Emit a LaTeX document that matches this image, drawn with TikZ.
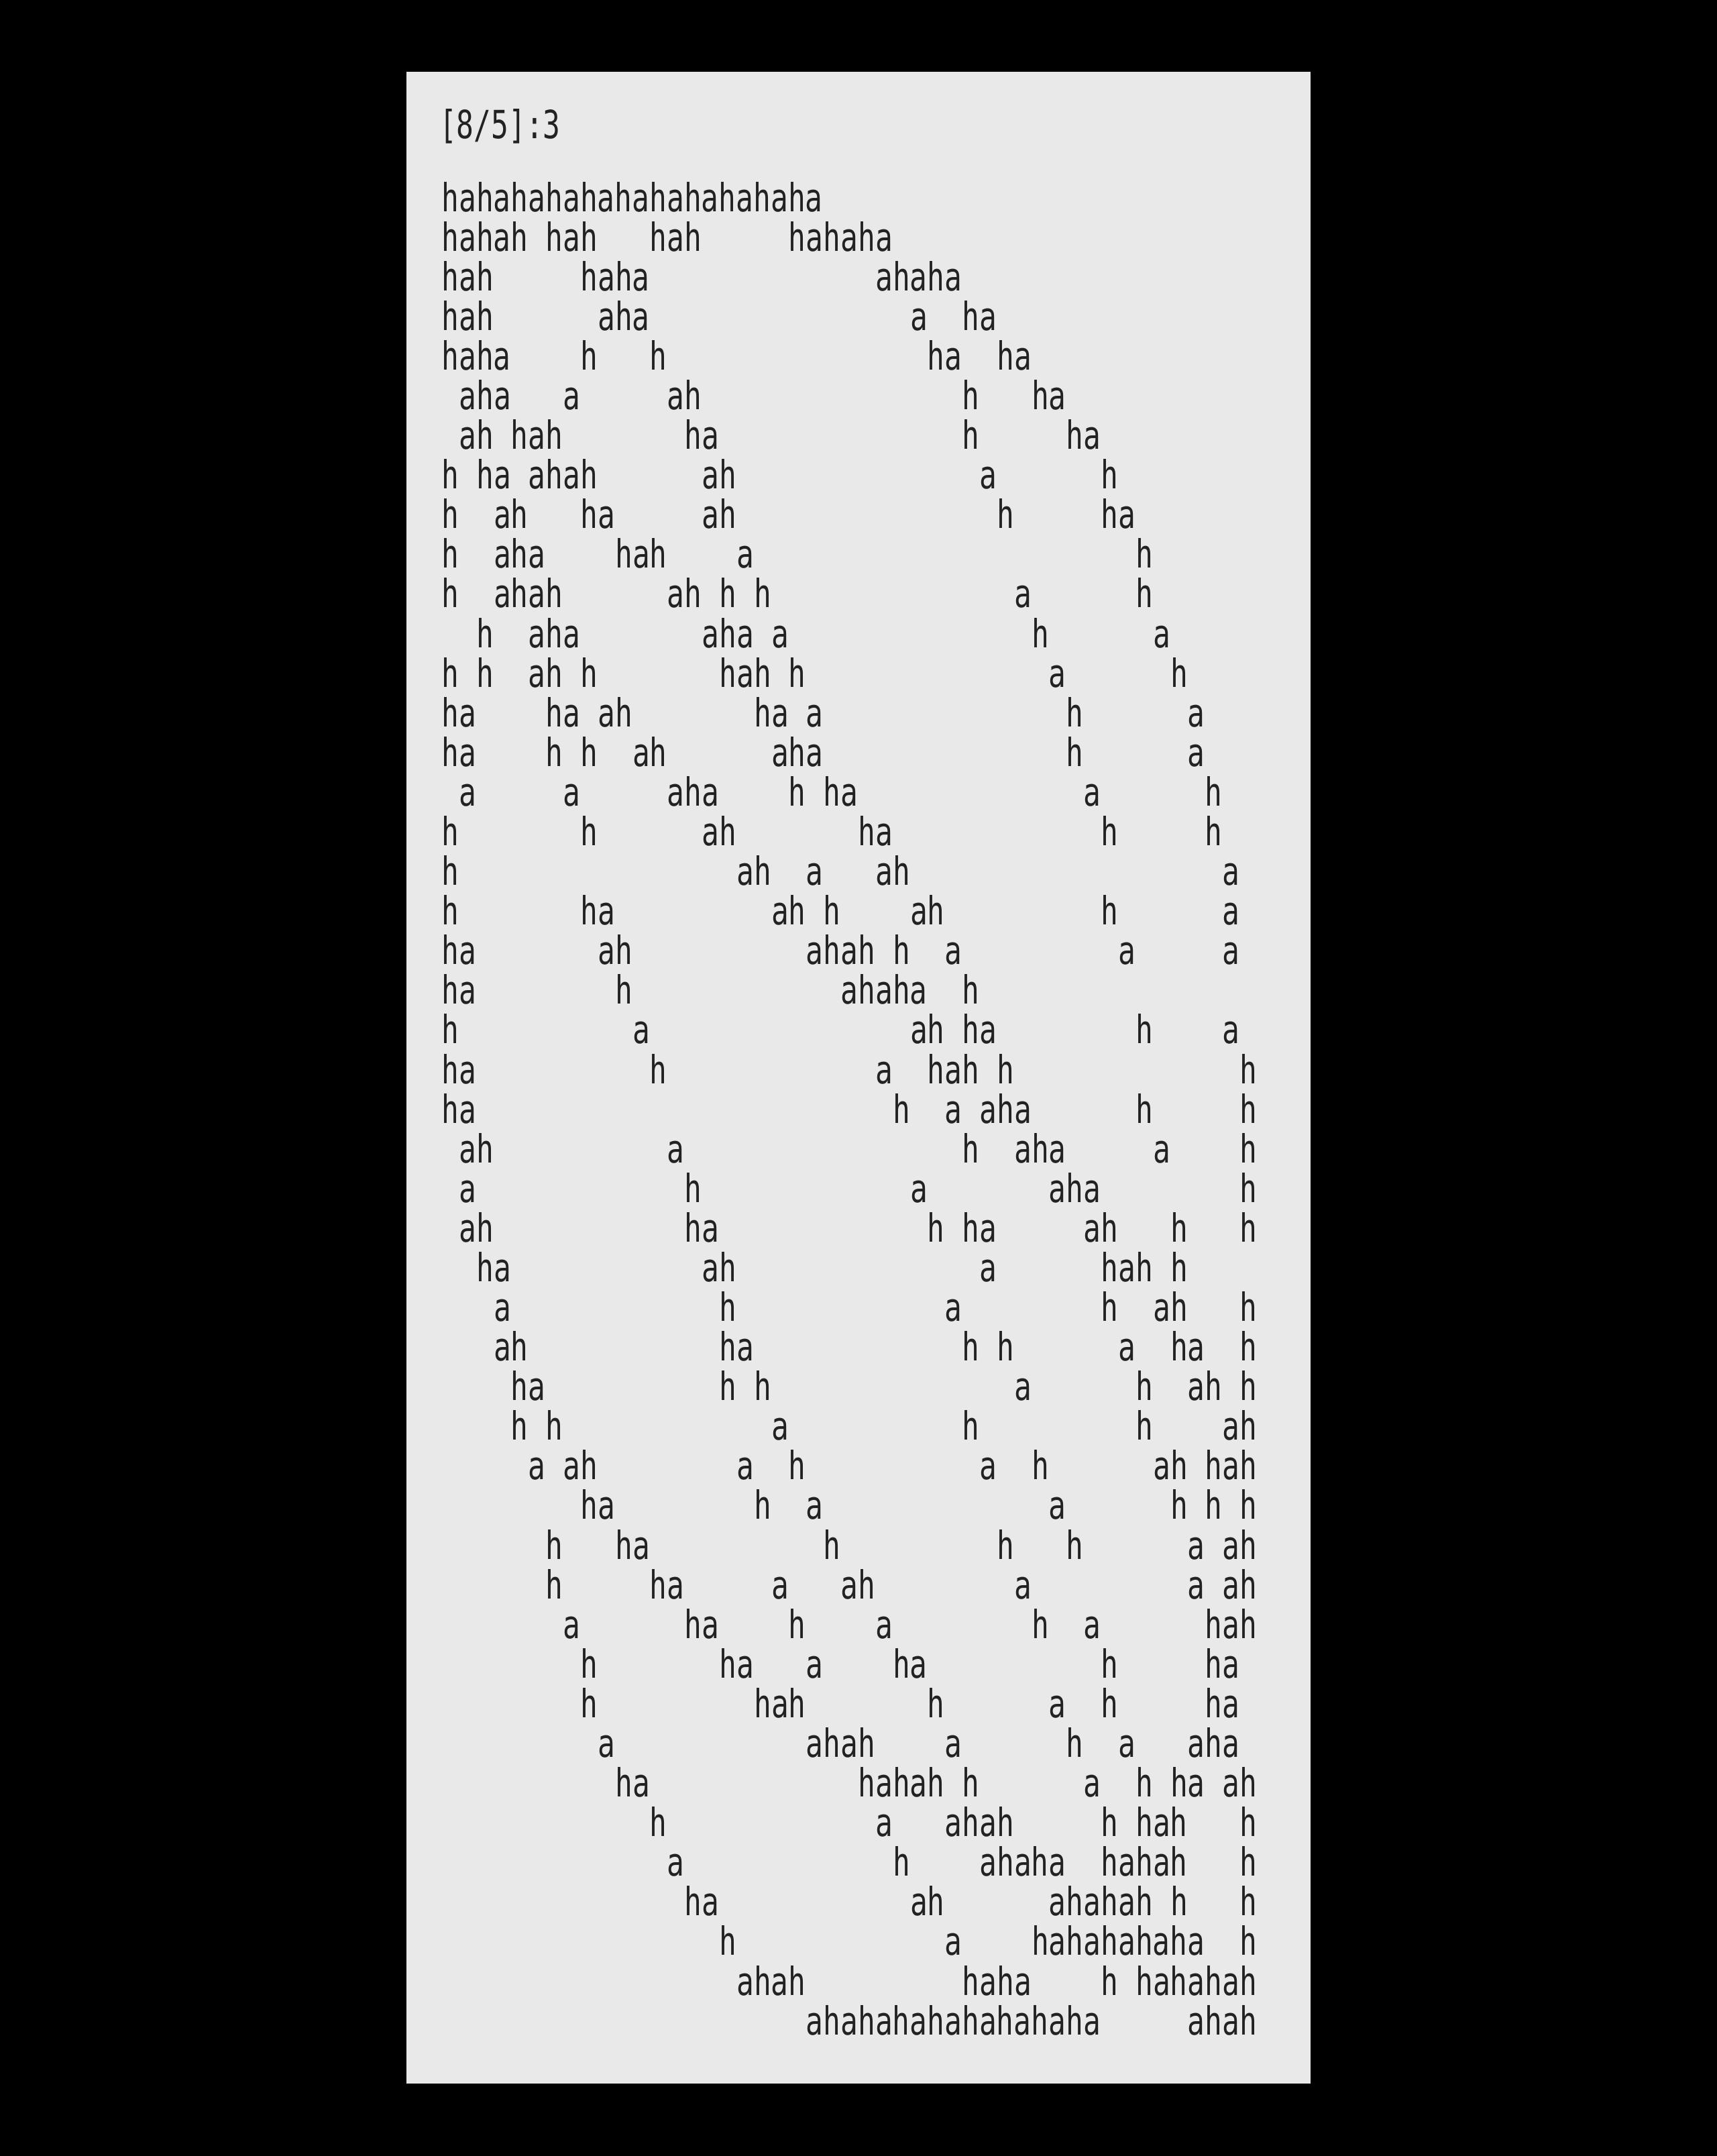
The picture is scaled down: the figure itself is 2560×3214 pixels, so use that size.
\documentclass[tikz,border=0pt]{standalone}
\usepackage{fontspec}
\newfontfamily\hafont[FakeStretch=0.741]{DejaVu Sans Mono}
\definecolor{panelgray}{RGB}{233,233,233}
\definecolor{inkgray}{RGB}{34,34,34}
\begin{document}
\begin{tikzpicture}[x=0.3pt,y=-0.3pt,
  txt/.style={anchor=base west,inner sep=0pt,outer sep=0pt,text=inkgray,
    font=\hafont\fontsize{17.37pt}{20pt}\selectfont}]
\path[use as bounding box, fill=black] (0,0) rectangle (2560,3214);
\fill[panelgray] (606,107) rectangle (1954,3106);
\node[txt] (header) at (655,206.7) {[8/5]:3};
\foreach \r/\c/\t in {
0/0/hahahahahahahahahahaha,
1/0/hahah,1/6/hah,1/12/hah,1/20/hahaha,
2/0/hah,2/8/haha,2/25/ahaha,
3/0/hah,3/9/aha,3/27/a,3/30/ha,
4/0/haha,4/8/h,4/12/h,4/28/ha,4/32/ha,
5/1/aha,5/7/a,5/13/ah,5/30/h,5/34/ha,
6/1/ah,6/4/hah,6/14/ha,6/30/h,6/36/ha,
7/0/h,7/2/ha,7/5/ahah,7/15/ah,7/31/a,7/38/h,
8/0/h,8/3/ah,8/8/ha,8/15/ah,8/32/h,8/38/ha,
9/0/h,9/3/aha,9/10/hah,9/17/a,9/40/h,
10/0/h,10/3/ahah,10/13/ah,10/16/h,10/18/h,10/33/a,10/40/h,
11/2/h,11/5/aha,11/15/aha,11/19/a,11/34/h,11/41/a,
12/0/h,12/2/h,12/5/ah,12/8/h,12/16/hah,12/20/h,12/35/a,12/42/h,
13/0/ha,13/6/ha,13/9/ah,13/18/ha,13/21/a,13/36/h,13/43/a,
14/0/ha,14/6/h,14/8/h,14/11/ah,14/19/aha,14/36/h,14/43/a,
15/1/a,15/7/a,15/13/aha,15/20/h,15/22/ha,15/37/a,15/44/h,
16/0/h,16/8/h,16/15/ah,16/24/ha,16/38/h,16/44/h,
17/0/h,17/17/ah,17/21/a,17/25/ah,17/45/a,
18/0/h,18/8/ha,18/19/ah,18/22/h,18/27/ah,18/38/h,18/45/a,
19/0/ha,19/9/ah,19/21/ahah,19/26/h,19/29/a,19/39/a,19/45/a,
20/0/ha,20/10/h,20/23/ahaha,20/30/h,
21/0/h,21/11/a,21/27/ah,21/30/ha,21/40/h,21/45/a,
22/0/ha,22/12/h,22/25/a,22/28/hah,22/32/h,22/46/h,
23/0/ha,23/26/h,23/29/a,23/31/aha,23/40/h,23/46/h,
24/1/ah,24/13/a,24/30/h,24/33/aha,24/41/a,24/46/h,
25/1/a,25/14/h,25/27/a,25/35/aha,25/46/h,
26/1/ah,26/14/ha,26/28/h,26/30/ha,26/37/ah,26/42/h,26/46/h,
27/2/ha,27/15/ah,27/31/a,27/38/hah,27/42/h,
28/3/a,28/16/h,28/29/a,28/38/h,28/41/ah,28/46/h,
29/3/ah,29/16/ha,29/30/h,29/32/h,29/39/a,29/42/ha,29/46/h,
30/4/ha,30/16/h,30/18/h,30/33/a,30/40/h,30/43/ah,30/46/h,
31/4/h,31/6/h,31/19/a,31/30/h,31/40/h,31/45/ah,
32/5/a,32/7/ah,32/17/a,32/20/h,32/31/a,32/34/h,32/41/ah,32/44/hah,
33/8/ha,33/18/h,33/21/a,33/35/a,33/42/h,33/44/h,33/46/h,
34/6/h,34/10/ha,34/22/h,34/32/h,34/36/h,34/43/a,34/45/ah,
35/6/h,35/12/ha,35/19/a,35/23/ah,35/33/a,35/43/a,35/45/ah,
36/7/a,36/14/ha,36/20/h,36/25/a,36/34/h,36/37/a,36/44/hah,
37/8/h,37/16/ha,37/21/a,37/26/ha,37/38/h,37/44/ha,
38/8/h,38/18/hah,38/28/h,38/35/a,38/38/h,38/44/ha,
39/9/a,39/21/ahah,39/29/a,39/36/h,39/39/a,39/43/aha,
40/10/ha,40/24/hahah,40/30/h,40/37/a,40/40/h,40/42/ha,40/45/ah,
41/12/h,41/25/a,41/29/ahah,41/38/h,41/40/hah,41/46/h,
42/13/a,42/26/h,42/31/ahaha,42/38/hahah,42/46/h,
43/14/ha,43/27/ah,43/35/ahahah,43/42/h,43/46/h,
44/16/h,44/29/a,44/34/hahahahaha,44/46/h,
45/17/ahah,45/30/haha,45/38/h,45/40/hahahah,
46/21/ahahahahahahahaha,46/43/ahah}
  \node[txt] (w\r-\c) at ({658.5+\c*25.87},{315+\r*59.09}) {\t};
\end{tikzpicture}
\end{document}
